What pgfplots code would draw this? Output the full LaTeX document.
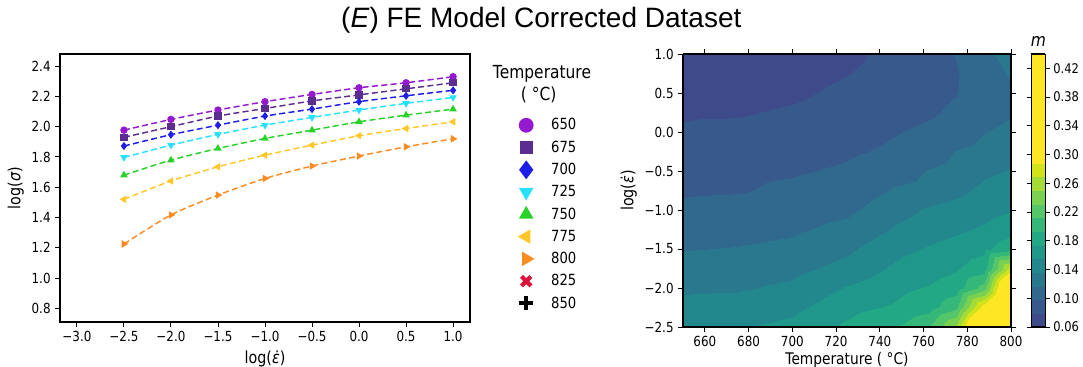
\documentclass[border=0pt]{standalone}
\usepackage{pgfplots}
\pgfplotsset{compat=1.18}
\usepackage{pgfplotstable}
\usepackage{fontspec}
\setmainfont{DejaVu Sans}[FakeStretch=0.86]
\newfontfamily\titlefont{Liberation Sans}

\definecolor{c650}{RGB}{150,25,210}
\definecolor{c675}{RGB}{92,45,145}
\definecolor{c700}{RGB}{30,30,232}
\definecolor{c725}{RGB}{40,225,255}
\definecolor{c750}{RGB}{40,210,40}
\definecolor{c775}{RGB}{255,200,40}
\definecolor{c800}{RGB}{250,140,35}
\definecolor{c825}{RGB}{220,20,60}

\pgfplotstableread{
T e m
650 -2.5 0.151
675 -2.5 0.154
700 -2.5 0.160
725 -2.5 0.178
750 -2.5 0.195
762.5 -2.5 0.211
775 -2.5 0.255
787.5 -2.5 0.370
800 -2.5 0.430
650 -2.25 0.1418
675 -2.25 0.1435
700 -2.25 0.150
725 -2.25 0.167
750 -2.25 0.178
762.5 -2.25 0.1855
775 -2.25 0.207
787.5 -2.25 0.300
800 -2.25 0.400
650 -2.0 0.133
675 -2.0 0.134
700 -2.0 0.140
725 -2.0 0.1565
750 -2.0 0.171
762.5 -2.0 0.1755
775 -2.0 0.1835
787.5 -2.0 0.220
800 -2.0 0.360
650 -1.75 0.1242
675 -1.75 0.1255
700 -1.75 0.1305
725 -1.75 0.1425
750 -1.75 0.161
762.5 -1.75 0.166
775 -1.75 0.1725
787.5 -1.75 0.185
800 -1.75 0.280
650 -1.5 0.1162
675 -1.5 0.118
700 -1.5 0.1215
725 -1.5 0.1325
750 -1.5 0.151
762.5 -1.5 0.157
775 -1.5 0.1625
787.5 -1.5 0.170
800 -1.5 0.186
650 -1.25 0.1088
675 -1.25 0.111
700 -1.25 0.1145
725 -1.25 0.1225
750 -1.25 0.1405
762.5 -1.25 0.147
775 -1.25 0.152
787.5 -1.25 0.158
800 -1.25 0.167
650 -1.0 0.1015
675 -1.0 0.104
700 -1.0 0.1075
725 -1.0 0.1135
750 -1.0 0.1305
762.5 -1.0 0.1385
775 -1.0 0.1425
787.5 -1.0 0.148
800 -1.0 0.154
650 -0.75 0.0961
675 -0.75 0.097
700 -0.75 0.101
725 -0.75 0.1055
750 -0.75 0.121
762.5 -0.75 0.1265
775 -0.75 0.132
787.5 -0.75 0.140
800 -0.75 0.1445
650 -0.5 0.0911
675 -0.5 0.0945
700 -0.5 0.0965
725 -0.5 0.100
750 -0.5 0.1075
762.5 -0.5 0.1185
775 -0.5 0.1245
787.5 -0.5 0.133
800 -0.5 0.137
650 -0.25 0.086
675 -0.25 0.089
700 -0.25 0.0925
725 -0.25 0.096
750 -0.25 0.1015
762.5 -0.25 0.106
775 -0.25 0.118
787.5 -0.25 0.125
800 -0.25 0.131
650 0.0 0.0814
675 0.0 0.0835
700 0.0 0.0875
725 0.0 0.092
750 0.0 0.098
762.5 0.0 0.1005
775 0.0 0.104
787.5 0.0 0.116
800 0.0 0.123
650 0.25 0.077
675 0.25 0.0775
700 0.25 0.0815
725 0.25 0.088
750 0.25 0.094
762.5 0.25 0.0965
775 0.25 0.1005
787.5 0.25 0.108
800 0.25 0.115
650 0.5 0.074
675 0.5 0.072
700 0.5 0.0755
725 0.5 0.0835
750 0.5 0.091
762.5 0.5 0.094
775 0.5 0.0975
787.5 0.5 0.106
800 0.5 0.114
650 0.75 0.071
675 0.75 0.069
700 0.75 0.071
725 0.75 0.0785
750 0.75 0.089
762.5 0.75 0.093
775 0.75 0.097
787.5 0.75 0.108
800 0.75 0.119
650 1.0 0.068
675 1.0 0.066
700 1.0 0.066
725 1.0 0.074
750 1.0 0.088
762.5 1.0 0.093
775 1.0 0.0985
787.5 1.0 0.112
800 1.0 0.126
}\mgrid

\pgfplotsset{
  /pgf/number format/assume math mode=true,
  every axis/.append style={
    tick align=outside,
    major tick length=3.5pt,
    tick style={black, line width=0.7pt},
    axis line style={line width=0.8pt},
    ticklabel style={font=\fontsize{10.4}{12}\selectfont},
    label style={font=\fontsize{12.5}{14}\selectfont},
  },
  series/.style={line width=1.1pt, dash pattern=on 4.5pt off 2.5pt, smooth, tension=0.45, mark size=2.2pt},
}

\begin{document}
\begin{tikzpicture}
\useasboundingbox (0,0) rectangle (812.25pt,275.25pt);

\node[font=\titlefont\fontsize{21}{24}\selectfont] at (406pt,260pt) {(\textit{E}) FE Model Corrected Dataset};

\node[font=\fontsize{13.5}{15}\selectfont, inner sep=0pt] at (406.5pt,220pt) {Temperature};
\node[font=\fontsize{13.5}{15}\selectfont, inner sep=0pt] at (404pt,204pt) {( °C)};

\begin{axis}[
  at={(45pt,33.75pt)}, anchor=south west,
  scale only axis, width=307.5pt, height=201pt,
  xmin=-3.18, xmax=1.18, ymin=0.71, ymax=2.48,
  xtick={-3,-2.5,-2,-1.5,-1,-0.5,0,0.5,1},
  xticklabels={−3.0,−2.5,−2.0,−1.5,−1.0,−0.5,0.0,0.5,1.0},
  ytick={0.8,1.0,1.2,1.4,1.6,1.8,2.0,2.2,2.4},
  yticklabels={0.8,1.0,1.2,1.4,1.6,1.8,2.0,2.2,2.4},
  xtick pos=left, ytick pos=left,
  xlabel={log(\textit{ε̇})}, ylabel={log(\textit{σ})},
  xlabel style={yshift=0pt}, ylabel style={yshift=-1pt},
  legend cell align=left,
  legend style={draw=none, fill=none, at={(1.1195,0.7765)}, anchor=north west,
    inner sep=0pt, row sep=0pt, column sep=13.5pt,
    font=\fontsize{11.5}{13}\selectfont,
    nodes={inner sep=0pt, minimum height=16.7pt, anchor=west}},
]
\addplot[series, c650, mark=*, mark options={solid},
  legend image code/.code={\draw[c650, fill=c650, mark=*, mark size=5pt, mark options={solid}] plot coordinates {(0pt,0pt)};}]
  coordinates {(-2.5,1.977) (-2.0,2.048) (-1.5,2.110) (-1.0,2.165) (-0.5,2.213) (0.0,2.257) (0.5,2.290) (1.0,2.330)};
\addlegendentry{650}
\addplot[series, c675, mark=square*, mark options={solid},
  legend image code/.code={\draw[c675, fill=c675, mark=square*, mark size=4.2pt, mark options={solid}] plot coordinates {(0pt,0pt)};}]
  coordinates {(-2.5,1.930) (-2.0,2.000) (-1.5,2.070) (-1.0,2.120) (-0.5,2.170) (0.0,2.210) (0.5,2.250) (1.0,2.290)};
\addlegendentry{675}
\addplot[series, c700, mark=diamond*, mark options={solid},
  legend image code/.code={\draw[c700, fill=c700, mark=diamond*, mark size=6.2pt, mark options={solid}] plot coordinates {(0pt,0pt)};}]
  coordinates {(-2.5,1.872) (-2.0,1.947) (-1.5,2.010) (-1.0,2.070) (-0.5,2.116) (0.0,2.165) (0.5,2.204) (1.0,2.240)};
\addlegendentry{700}
\addplot[series, c725, mark=triangle*, mark options={solid, rotate=180},
  legend image code/.code={\draw[c725, fill=c725, mark=triangle*, mark size=5.2pt, mark options={solid, rotate=180}] plot coordinates {(0pt,0pt)};}]
  coordinates {(-2.5,1.797) (-2.0,1.878) (-1.5,1.949) (-1.0,2.010) (-0.5,2.061) (0.0,2.110) (0.5,2.154) (1.0,2.193)};
\addlegendentry{725}
\addplot[series, c750, mark=triangle*, mark options={solid},
  legend image code/.code={\draw[c750, fill=c750, mark=triangle*, mark size=5.2pt, mark options={solid}] plot coordinates {(0pt,0pt)};}]
  coordinates {(-2.5,1.680) (-2.0,1.779) (-1.5,1.856) (-1.0,1.922) (-0.5,1.977) (0.0,2.032) (0.5,2.076) (1.0,2.116)};
\addlegendentry{750}
\addplot[series, c775, mark=triangle*, mark options={solid, rotate=90},
  legend image code/.code={\draw[c775, fill=c775, mark=triangle*, mark size=5.2pt, mark options={solid, rotate=90}] plot coordinates {(0pt,0pt)};}]
  coordinates {(-2.5,1.520) (-2.0,1.641) (-1.5,1.735) (-1.0,1.812) (-0.5,1.878) (0.0,1.940) (0.5,1.988) (1.0,2.032)};
\addlegendentry{775}
\addplot[series, c800, mark=triangle*, mark options={solid, rotate=270},
  legend image code/.code={\draw[c800, fill=c800, mark=triangle*, mark size=5.2pt, mark options={solid, rotate=270}] plot coordinates {(0pt,0pt)};}]
  coordinates {(-2.5,1.225) (-2.0,1.417) (-1.5,1.548) (-1.0,1.658) (-0.5,1.740) (0.0,1.806) (0.5,1.867) (1.0,1.920)};
\addlegendentry{800}
\addlegendimage{legend image code/.code={\draw[c825, line width=3.2pt, mark=x, mark size=5pt] plot coordinates {(0pt,0pt)};}}
\addlegendentry{825}
\addlegendimage{legend image code/.code={\draw[black, line width=3pt, mark=+, mark size=5.2pt] plot coordinates {(0pt,0pt)};}}
\addlegendentry{850}
\end{axis}

\begin{axis}[
  at={(512.25pt,30pt)}, anchor=south west,
  scale only axis, width=246pt, height=204.75pt,
  view={0}{90},
  xmin=650, xmax=800, ymin=-2.5, ymax=1.0,
  xtick={660,680,700,720,740,760,780,800},
  ytick={-2.5,-2,-1.5,-1,-0.5,0,0.5,1},
  yticklabels={−2.5,−2.0,−1.5,−1.0,−0.5,0.0,0.5,1.0},
  xlabel={Temperature ( °C)}, ylabel={log(\textit{ε̇})},
  xlabel style={yshift=3pt, font=\fontsize{12}{13}\selectfont}, ylabel style={yshift=-1pt},
  axis on top,
  colormap={mbands}{
    rgb255=(62,74,137) rgb255=(56,89,140) rgb255=(49,104,142) rgb255=(42,120,142)
    rgb255=(35,136,142) rgb255=(31,152,139) rgb255=(34,168,132) rgb255=(53,183,121)
    rgb255=(84,197,104) rgb255=(122,209,81) rgb255=(165,219,54) rgb255=(210,226,27)
    rgb255=(253,231,37) rgb255=(253,231,37) rgb255=(253,231,37) rgb255=(253,231,37)
    rgb255=(253,231,37) rgb255=(253,231,37) rgb255=(253,231,37) rgb255=(253,231,37)},
  colormap access=piecewise constant,
  point meta min=0.06, point meta max=0.44,
  colorbar,
  colorbar style={
    at={(parent axis.north east)}, anchor=north west, xshift=6.75pt,
    width=10.5pt,
    ytick={0.06,0.10,0.14,0.18,0.22,0.26,0.30,0.34,0.38,0.42},
    yticklabels={0.06,0.10,0.14,0.18,0.22,0.26,0.30,0.34,0.38,0.42},
    tick align=outside, major tick length=3.5pt,
    yticklabel style={font=\fontsize{10}{12}\selectfont, xshift=-1pt},
    title={\textit{m}}, title style={font=\fontsize{13.5}{15}\selectfont, yshift=-4pt},
  },
]
\addplot3[surf, shader=interp, mesh/cols=9] table[x=T, y=e, z=m, meta=m] {\mgrid};
\end{axis}
\end{tikzpicture}
\end{document}
